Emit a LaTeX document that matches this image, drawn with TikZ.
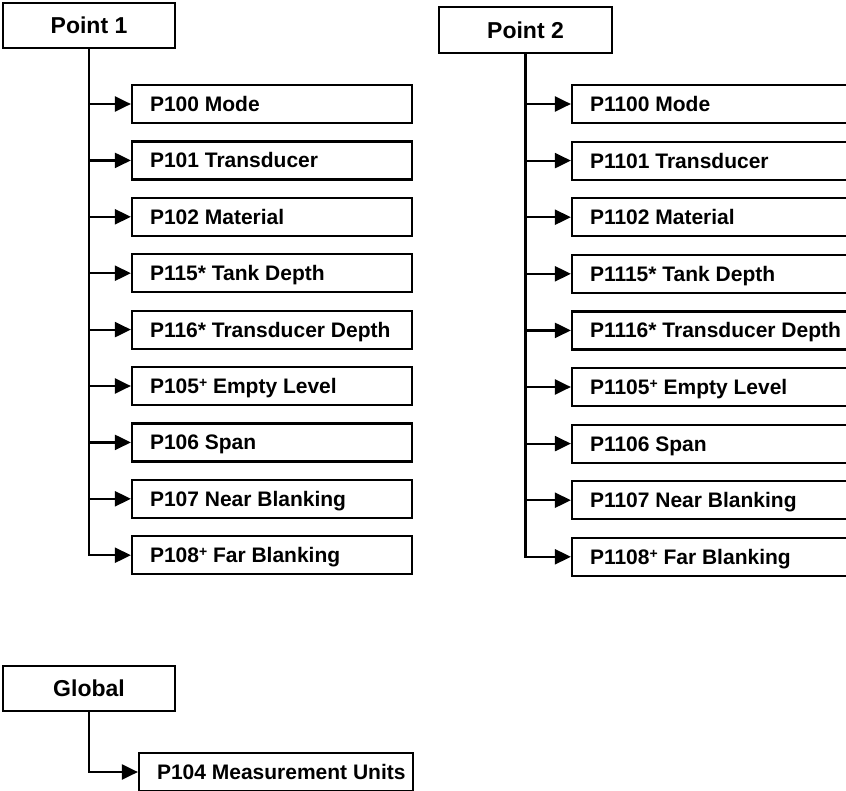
\documentclass[tikz,border=0pt]{standalone}
\usepackage{fontspec}
\setmainfont{Liberation Sans}
\usetikzlibrary{arrows.meta}
\newcommand{\cbx}[2][244pt]{\makebox[#1][l]{#2}}
\newcommand{\pl}{\raisebox{6pt}{\fontsize{14}{14}\selectfont +}}
\begin{document}
\begin{tikzpicture}[x=1pt,y=-1pt,
  parentbox/.style={draw,line width=2.2pt,minimum width=172pt,minimum height=45pt,inner sep=0pt,
    font=\fontsize{23}{27}\selectfont\bfseries,text height=16.5pt,text depth=0pt},
  childbox/.style={draw,line width=2.2pt,minimum height=38pt,inner xsep=18pt,inner ysep=0pt,
    font=\fontsize{21}{25}\selectfont\bfseries,text height=15.1pt,text depth=0pt},
  conn/.style={line width=2.2pt,-{Triangle[length=16pt,width=15pt]}}]
\useasboundingbox (0,0) rectangle (846,790);
\clip (0,0) rectangle (846,790);
% Point 1
\node[parentbox] (p1) at (89,25.5) {Point 1};
\node[childbox] (a0) at (272,104.0) {\cbx{P100 Mode}};
\node[childbox] (a1) at (272,160.4) {\cbx{P101 Transducer}};
\node[childbox] (a2) at (272,216.8) {\cbx{P102 Material}};
\node[childbox] (a3) at (272,273.2) {\cbx{P115* Tank Depth}};
\node[childbox] (a4) at (272,329.6) {\cbx{P116* Transducer Depth}};
\node[childbox] (a5) at (272,386.0) {\cbx{P105\pl\ Empty Level}};
\node[childbox] (a6) at (272,442.4) {\cbx{P106 Span}};
\node[childbox] (a7) at (272,498.8) {\cbx{P107 Near Blanking}};
\node[childbox] (a8) at (272,555.2) {\cbx{P108\pl\ Far Blanking}};
\foreach \i in {0,...,8} \draw[conn] (p1.south) |- (a\i.west);
% Point 2
\node[parentbox,minimum width=173pt,minimum height=46pt] (p2) at (525.5,30) {Point 2};
\node[childbox] (b0) at (712,104.0) {\cbx{P1100 Mode}};
\node[childbox] (b1) at (712,160.6) {\cbx{P1101 Transducer}};
\node[childbox] (b2) at (712,217.2) {\cbx{P1102 Material}};
\node[childbox] (b3) at (712,273.8) {\cbx{P1115* Tank Depth}};
\node[childbox] (b4) at (712,330.4) {\cbx{P1116* Transducer Depth}};
\node[childbox] (b5) at (712,387.0) {\cbx{P1105\pl\ Empty Level}};
\node[childbox] (b6) at (712,443.6) {\cbx{P1106 Span}};
\node[childbox] (b7) at (712,500.2) {\cbx{P1107 Near Blanking}};
\node[childbox] (b8) at (712,556.8) {\cbx{P1108\pl\ Far Blanking}};
\foreach \i in {0,...,8} \draw[conn] (p2.south) |- (b\i.west);
% Global
\node[parentbox] (g) at (89,688.5) {Global};
\node[childbox] (g0) at (276,772) {\cbx[238pt]{P104 Measurement Units}};
\draw[conn] (g.south) |- (g0.west);
\end{tikzpicture}
\end{document}
